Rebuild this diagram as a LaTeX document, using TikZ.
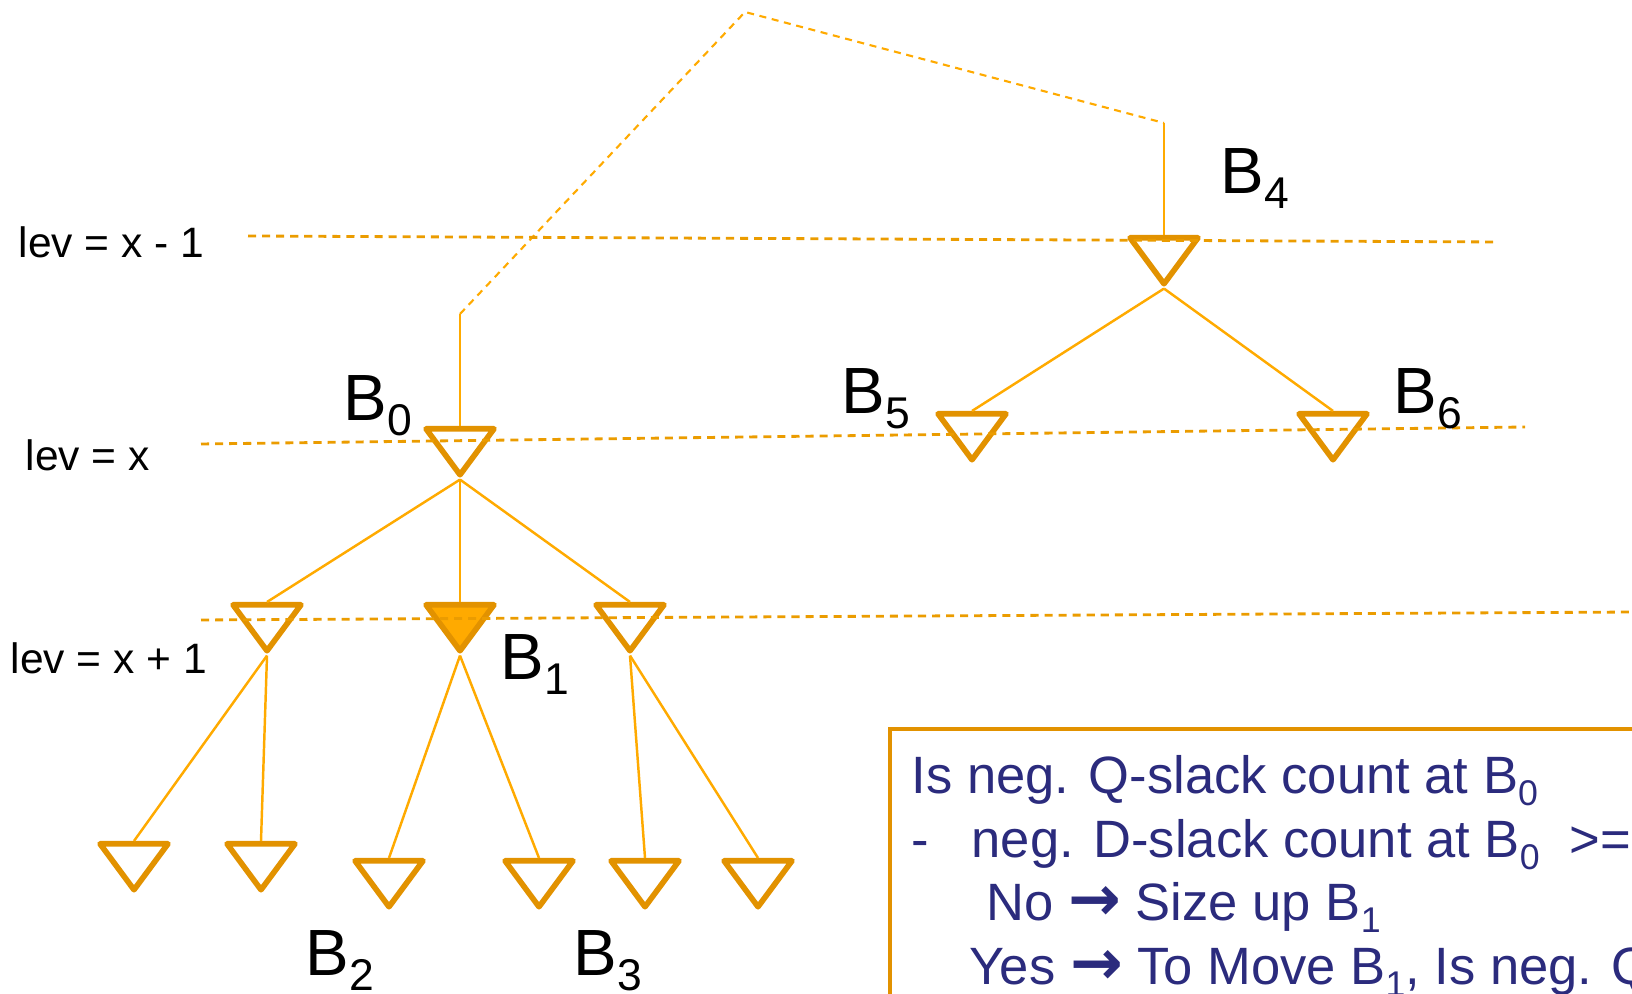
\documentclass[tikz,border=0pt]{standalone}
\usepackage{fontspec}
\setmainfont{Liberation Sans}
\newfontfamily\arrowfont{DejaVu Sans}
\usetikzlibrary{shapes.geometric}
\definecolor{blkOrange}{RGB}{226,146,0}
\definecolor{wireOrange}{RGB}{255,170,0}
\definecolor{noteNavy}{RGB}{43,43,125}

% lowered, shrunk index after a block name
\newcommand{\lowidx}[1]{\raisebox{-0.22em}{\scalebox{0.68}{#1}}}
% heavy arrow used in the note
\newcommand{\thenarrow}{{\arrowfont\bfseries\scalebox{1.2}{→}}}

\begin{document}
\begin{tikzpicture}[
  blk/.style={isosceles triangle, isosceles triangle apex angle=72,
              isosceles triangle stretches, shape border rotate=270,
              draw=blkOrange, fill=white, line width=1.6pt, line join=round,
              inner sep=0pt, minimum width=0.68cm, minimum height=0.46cm},
  selblk/.style={blk, fill=wireOrange},
  wire/.style={wireOrange, line width=0.7pt},
  upwire/.style={wireOrange, line width=0.6pt, dash pattern=on 2pt off 1.6pt},
  levline/.style={wireOrange!92!black, line width=0.8pt, dash pattern=on 2.3pt off 1.7pt},
  levlabel/.style={anchor=west, inner sep=0pt, font=\fontsize{12.1}{14}\selectfont},
  blabel/.style={anchor=base west, inner sep=0pt, font=\fontsize{18.6}{20}\selectfont},
  noteline/.style={anchor=base west, inner sep=0pt, noteNavy,
                   font=\fontsize{14.95}{17}\selectfont},
]
\useasboundingbox (0,0) rectangle (16.32,9.94);
\clip (0,0) rectangle (16.32,9.94);

%%──────────────────────────────────────────────────────────────────
%% Blocks (apex down, placed by the middle of the top side)
%%──────────────────────────────────────────────────────────────────
\node[blk, anchor=lower side] (b4) at (11.64, 7.59) {};
\node[blk, anchor=lower side] (b0) at (4.60, 5.68) {};
\node[blk, anchor=lower side] (b5) at (9.72, 5.83) {};
\node[blk, anchor=lower side] (b6) at (13.33, 5.83) {};

% level x+1: fanout of B0, B1 is the one to size
\node[blk, anchor=lower side] (bl) at (2.67, 3.92) {};
\node[selblk, anchor=lower side] (b1) at (4.60, 3.92) {};
\node[blk, anchor=lower side] (br) at (6.30, 3.92) {};

% sinks below level x+1
\foreach \n/\x/\y in {c1/1.34/1.53, c2/2.61/1.53, c3/3.89/1.36,
                      c4/5.39/1.36, c5/6.45/1.36, c6/7.58/1.36}{
  \node[blk, anchor=lower side] (\n) at (\x, \y) {};
}

% nets from each driver apex to its sinks
\foreach \p/\c in {b0/bl, b0/b1, b0/br, b4/b5, b4/b6,
                   bl/c1, bl/c2, b1/c3, b1/c4, br/c5, br/c6}{
  \draw[wire] (\p.apex) -- (\c.lower side);
}

% B0 input comes from B4 (long route over the top)
\coordinate (b0up) at (4.60, 6.80);
\coordinate (peak) at (7.45, 9.82);
\coordinate (b4up) at (11.64, 8.71);
\draw[wire] (b0.lower side) -- (b0up);
\draw[upwire] (b0up) -- (peak) -- (b4up);
\draw[wire] (b4up) -- (b4.lower side);

%%──────────────────────────────────────────────────────────────────
%% Levels
%%──────────────────────────────────────────────────────────────────
\draw[levline] (2.48, 7.58) -- (14.97, 7.52);
\draw[levline] (2.01, 5.50) -- (15.25, 5.67);
\draw[levline] (2.01, 3.74) -- (16.40, 3.82);

\node[levlabel] (levup) at (0.18, 7.52) {lev = x - 1};
\node[levlabel] (levx)  at (0.25, 5.39) {lev = x};
\node[levlabel] (levdn) at (0.10, 3.36) {lev = x + 1};

% block names
\node[blabel] (nb0) at (3.43, 5.73) {B\lowidx{0}};
\node[blabel] (nb1) at (5.00, 3.14) {B\lowidx{1}};
\node[blabel] (nb2) at (3.05, 0.18) {B\lowidx{2}};
\node[blabel] (nb3) at (5.73, 0.18) {B\lowidx{3}};
\node[blabel] (nb4) at (12.20, 8.00) {B\lowidx{4}};
\node[blabel] (nb5) at (8.41, 5.80) {B\lowidx{5}};
\node[blabel] (nb6) at (13.93, 5.80) {B\lowidx{6}};

%%──────────────────────────────────────────────────────────────────
%% Decision note (runs off the page)
%%──────────────────────────────────────────────────────────────────
\draw[blkOrange, line width=1.3pt] (17.0, 2.65) -- (8.90, 2.65) -- (8.90, -0.5);
\node[noteline] (q1) at (9.11, 2.00) {Is neg. Q-slack count at B\lowidx{0}};
\node[noteline] (q2) at (9.11, 1.36)
     {\makebox[0.60cm][l]{-}neg. D-slack count at B\lowidx{0}\hspace{0.3cm}>=};
\node[noteline] (q3) at (9.86, 0.73) {No \thenarrow{} Size up B\lowidx{1}};
\node[noteline] (q4) at (9.69, 0.09) {Yes \thenarrow{} To Move B\lowidx{1}, Is neg. Q};

\end{tikzpicture}
\end{document}
